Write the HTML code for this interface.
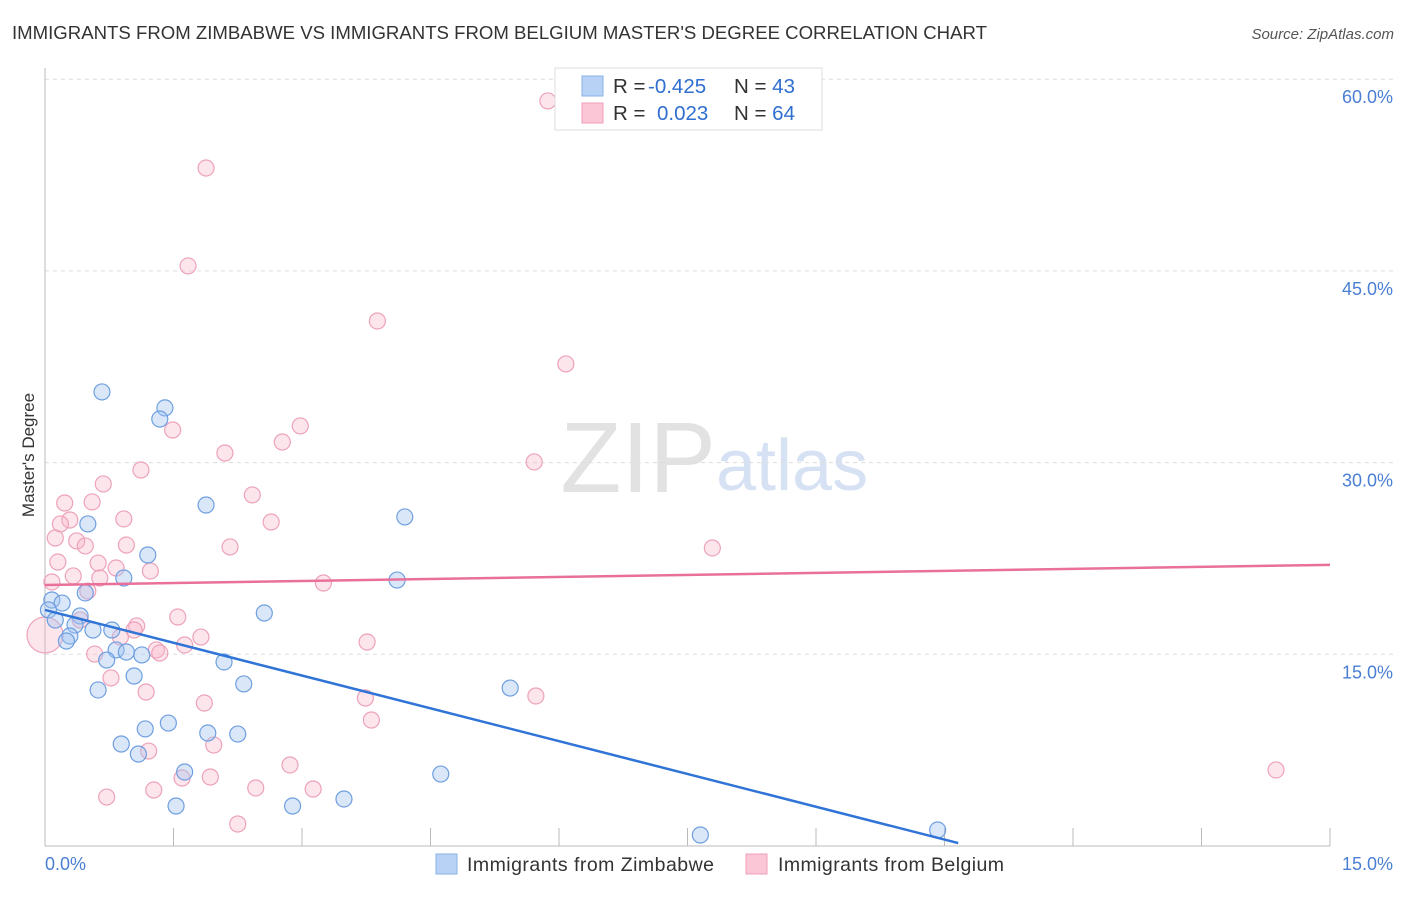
<!DOCTYPE html>
<html><head><meta charset="utf-8"><style>
body{margin:0;background:#fff;font-family:"Liberation Sans",sans-serif;}
svg text{font-family:"Liberation Sans",sans-serif;}
</style></head><body>
<svg id="chart" width="1406" height="892" viewBox="0 0 1406 892">
<text x="12" y="39" font-size="18.6" fill="#333">IMMIGRANTS FROM ZIMBABWE VS IMMIGRANTS FROM BELGIUM MASTER'S DEGREE CORRELATION CHART</text>
<text x="1394" y="39" font-size="15" fill="#555" font-style="italic" text-anchor="end">Source: ZipAtlas.com</text>
<text x="716" y="492" font-size="100" fill="#e2e2e2" text-anchor="end" font-family="Liberation Serif">ZIP</text>
<text x="716" y="490" font-size="72" fill="#d6e2f4">atlas</text>
<text transform="translate(34,455) rotate(-90)" font-size="17" fill="#333" text-anchor="middle">Master's Degree</text>
<g id="grid"></g><g id="marks"></g>
<g>
<rect x="555" y="68" width="267" height="62" fill="#fff" stroke="#ddd"/>
<rect x="582" y="76" width="21" height="20" fill="#b8d2f5" stroke="#8ab0e6"/>
<rect x="582" y="103" width="21" height="20" fill="#fbc6d6" stroke="#f0a0b8"/>
<text x="613" y="93" font-size="20.5" fill="#333">R = <tspan fill="#2f6fd0" x="648">-0.425</tspan></text>
<text x="734" y="93" font-size="20.5" fill="#333">N = <tspan fill="#2f6fd0">43</tspan></text>
<text x="613" y="120" font-size="20.5" fill="#333">R = <tspan fill="#2f6fd0" x="657">0.023</tspan></text>
<text x="734" y="120" font-size="20.5" fill="#333">N = <tspan fill="#2f6fd0">64</tspan></text>
</g>
<g>
<rect x="436" y="854" width="21" height="20" fill="#b8d2f5" stroke="#8ab0e6"/>
<text x="467" y="871" font-size="19.5" fill="#333" textLength="247">Immigrants from Zimbabwe</text>
<rect x="746" y="854" width="21" height="20" fill="#fbc6d6" stroke="#f0a0b8"/>
<text x="778" y="871" font-size="19.5" fill="#333" textLength="226">Immigrants from Belgium</text>
</g>
</svg>
<script>
const xTicks=[0,1.5,3,4.5,6,7.5,9,10.5,12,13.5,15];
const yTicks=[15,30,45,60];
const yTickLabels=["15.0%","30.0%","45.0%","60.0%"];
const zimX=[0.665,1.40,1.34,0.50,1.88,4.20,1.20,0.92,4.11,2.56,0.47,0.08,0.20,0.41,0.35,0.56,0.29,0.25,0.78,0.83,0.95,1.13,0.72,2.09,1.04,2.32,0.62,5.43,1.44,1.17,1.90,2.25,0.89,1.09,1.63,4.62,3.49,1.53,2.89,7.65,10.42,0.04,0.12];
const zimY=[35.53,34.28,33.41,25.20,26.68,25.75,22.77,20.97,20.81,18.23,19.80,19.25,19.01,18.00,17.29,16.90,16.43,16.04,16.90,15.34,15.18,14.95,14.55,14.40,13.30,12.68,12.21,12.36,9.62,9.16,8.84,8.76,7.98,7.20,5.79,5.63,3.68,3.13,3.13,0.86,1.25,18.47,17.68];
const belX=[5.87,1.88,1.67,3.88,6.08,1.49,2.98,2.77,2.10,5.71,1.12,0.68,2.42,0.55,0.23,0.92,2.64,0.29,0.18,0.12,0.37,0.47,0.95,2.16,7.79,0.15,0.62,0.83,1.23,0.33,0.64,3.25,0.08,0.50,0.41,1.55,1.07,1.04,0.88,1.82,1.63,3.76,1.30,1.34,0.58,0.77,1.18,3.74,5.73,1.86,3.81,1.97,1.21,2.86,1.93,1.60,3.13,2.46,1.27,0.72,2.25,14.37,0.0];
const belY=[58.30,53.05,45.39,41.08,37.72,32.55,32.87,31.61,30.75,30.05,29.42,28.33,27.47,26.92,26.84,25.59,25.35,25.51,25.20,24.10,23.87,23.48,23.55,23.40,23.32,22.22,22.14,21.75,21.52,21.13,20.97,20.58,20.66,19.95,17.68,17.92,17.22,16.90,16.35,16.35,15.73,15.96,15.34,15.10,15.02,13.15,12.05,11.58,11.74,11.19,9.86,7.90,7.43,6.34,5.40,5.32,4.46,4.54,4.38,3.83,1.72,5.95,16.51];
const zimTrend=[[0,18.47],[10.66,0.23]];
const belTrend=[[0,20.42],[15,22.0]];
const NS="http://www.w3.org/2000/svg";
const X=v=>45+v/15*1285, Y=v=>846-v/15*191.7;
function mk(t,a,p){const e=document.createElementNS(NS,t);for(const k in a)e.setAttribute(k,a[k]);p.appendChild(e);return e;}
const grid=document.getElementById('grid'),marks=document.getElementById('marks');
yTicks.forEach((t,i)=>{
 const l=mk('line',{x1:45,x2:1394,y1:Y(t),y2:Y(t),stroke:'#ddd','stroke-dasharray':'4,4'},grid);
 
 
 const tx=mk('text',{x:1393,y:Y(t)+24,'font-size':18,fill:'#4a7fd4','text-anchor':'end'},grid);
 tx.textContent=yTickLabels[i];
 
 
});
const ax=mk('line',{x1:45,x2:45,y1:68,y2:846,stroke:'#bbb'},grid);


const bx=mk('line',{x1:45,x2:1330,y1:846,y2:846,stroke:'#bbb'},grid);


xTicks.forEach(t=>{
 const l=mk('line',{x1:X(t),x2:X(t),y1:828,y2:846,stroke:'#bbb'},grid);
 
 
});
[[0,'0.0%','start',45],[15,'15.0%','end',1393]].forEach(d=>{
 const tx=mk('text',{x:d[3],y:870,'font-size':18,fill:'#4a7fd4','text-anchor':d[2]},grid);
 tx.textContent=d[1];
 
 
});
belX.forEach((x,i)=>{
 const big=(x===0);
 const c=mk('circle',{cx:X(x),cy:Y(belY[i]),r:big?18:8,fill:'rgba(248,180,200,0.35)',stroke:'#eda2ba','stroke-width':1.2},marks);
 
 
});
zimX.forEach((x,i)=>{
 const c=mk('circle',{cx:X(x),cy:Y(zimY[i]),r:8,fill:'rgba(160,196,240,0.4)',stroke:'#6f9fe0','stroke-width':1.2},marks);
 
 
});
const tb=mk('line',{x1:X(belTrend[0][0]),y1:Y(belTrend[0][1]),x2:X(belTrend[1][0]),y2:Y(belTrend[1][1]),stroke:'#e8709a','stroke-width':2.5},marks);


const tz=mk('line',{x1:X(zimTrend[0][0]),y1:Y(zimTrend[0][1]),x2:X(zimTrend[1][0]),y2:Y(zimTrend[1][1]),stroke:'#2f74d6','stroke-width':2.5},marks);


</script>
</body></html>
